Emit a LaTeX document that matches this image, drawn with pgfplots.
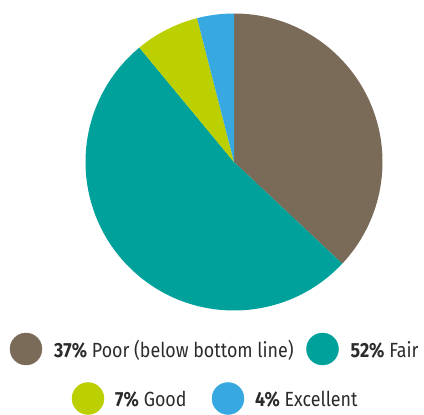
\documentclass[border=0pt]{standalone}
\usepackage{pgfplots}
\pgfplotsset{compat=1.18}
\usepackage{pgfplotstable}
\usepackage{fontspec}
\setmainfont{Fira Sans}[FakeStretch=0.87]
\definecolor{cpoor}{HTML}{7A6A58}
\definecolor{cfair}{HTML}{00A19B}
\definecolor{cgood}{HTML}{BCCF00}
\definecolor{cexc}{HTML}{38A9E0}
\definecolor{ctext}{HTML}{2B2B2B}
\pgfplotstableread{
label value
Poor 37
Fair 52
Good 7
Excellent 4
}\piedata
\begin{document}
\begin{tikzpicture}
\begin{axis}[
  x=1pt, y=1pt, y dir=reverse,
  xmin=0, xmax=424, ymin=0, ymax=410,
  hide axis, scale only axis, clip=false,
]
\path (axis cs:0,0) rectangle (axis cs:424,410);
% pie wedges from data
\pgfplotstablegetelem{0}{value}\of\piedata \let\va\pgfplotsretval
\pgfplotstablegetelem{1}{value}\of\piedata \let\vb\pgfplotsretval
\pgfplotstablegetelem{2}{value}\of\piedata \let\vc\pgfplotsretval
\pgfplotstablegetelem{3}{value}\of\piedata \let\vd\pgfplotsretval
\pgfmathsetmacro\aA{90}
\pgfmathsetmacro\aB{90-3.6*\va}
\pgfmathsetmacro\aC{\aB-3.6*\vb}
\pgfmathsetmacro\aD{\aC-3.6*\vc}
\pgfmathsetmacro\aE{\aD-3.6*\vd}
\fill[cpoor] (axis cs:234,162) -- ++(\aA:148.5pt) arc[start angle=\aA, end angle=\aB, radius=148.5pt] -- cycle;
\fill[cfair] (axis cs:234,162) -- ++(\aB:148.5pt) arc[start angle=\aB, end angle=\aC, radius=148.5pt] -- cycle;
\fill[cgood] (axis cs:234,162) -- ++(\aC:148.5pt) arc[start angle=\aC, end angle=\aD, radius=148.5pt] -- cycle;
\fill[cexc] (axis cs:234,162) -- ++(\aD:148.5pt) arc[start angle=\aD, end angle=\aE, radius=148.5pt] -- cycle;
% legend markers
\addplot[only marks, mark=*, mark size=16pt, color=cpoor] coordinates {(26,349)};
\addplot[only marks, mark=*, mark size=16pt, color=cfair] coordinates {(322.5,349)};
\addplot[only marks, mark=*, mark size=16pt, color=cgood] coordinates {(88,398.5)};
\addplot[only marks, mark=*, mark size=16pt, color=cexc] coordinates {(228,398.5)};
\begin{scope}[every node/.style={anchor=base west, inner sep=0pt, text=ctext, font=\fontsize{20.5}{24}\selectfont}]
\node at (axis cs:54,357) {\textbf{37\%} Poor (below bottom line)};
\node at (axis cs:350.5,357) {\textbf{52\%} Fair};
\node at (axis cs:115,406.5) {\textbf{7\%} Good};
\node at (axis cs:255,406.5) {\textbf{4\%} Excellent};
\end{scope}
\end{axis}
\end{tikzpicture}
\end{document}
